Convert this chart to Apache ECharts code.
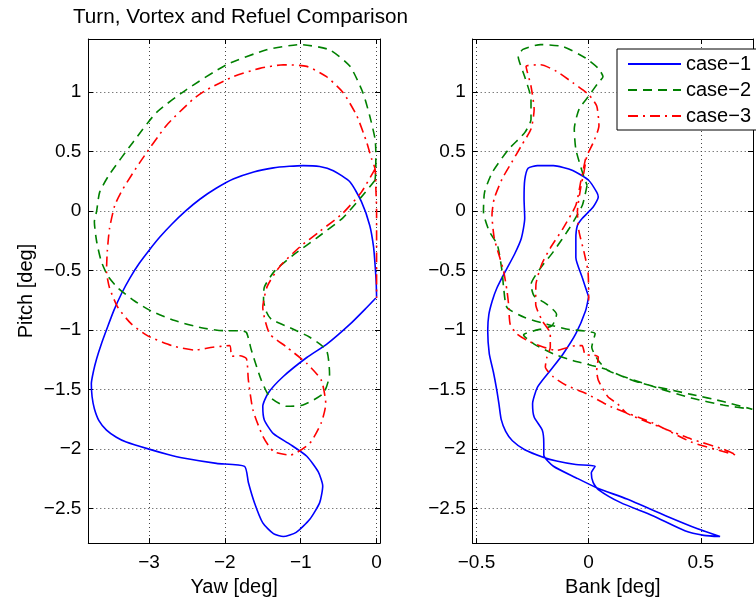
<!DOCTYPE html>
<html>
<head>
<meta charset="utf-8">
<script src="https://cdn.jsdelivr.net/npm/echarts@6/dist/echarts.min.js"></script>
<style>
html, body { margin: 0; padding: 0; background: #fff; }
#main { width: 756px; height: 602px; }
</style>
</head>
<body>
<div id="main"></div>
<script>
// [yaw, pitch] pairs, left panel
var yawPitch1 = [[0.0,-0.72],[-0.005,-0.6],[-0.02,-0.45],[-0.04,-0.3],[-0.09,-0.12],[-0.2,0.08],[-0.35,0.245],[-0.57,0.34],[-0.75,0.375],[-0.97,0.383],[-1.15,0.377],[-1.36,0.364],[-1.62,0.33],[-1.89,0.27],[-2.12,0.19],[-2.33,0.1],[-2.52,0.0],[-2.7,-0.11],[-2.86,-0.22],[-3.0,-0.33],[-3.13,-0.44],[-3.25,-0.56],[-3.36,-0.69],[-3.46,-0.83],[-3.55,-0.98],[-3.63,-1.12],[-3.69,-1.24],[-3.73,-1.34],[-3.76,-1.45],[-3.75,-1.56],[-3.72,-1.66],[-3.66,-1.76],[-3.56,-1.84],[-3.43,-1.9],[-3.3,-1.94],[-3.0,-2.0],[-2.75,-2.045],[-2.55,-2.075],[-2.11,-2.12],[-1.74,-2.145],[-1.69,-2.28],[-1.61,-2.45],[-1.5,-2.62],[-1.36,-2.71],[-1.23,-2.735],[-1.06,-2.7],[-0.88,-2.59],[-0.75,-2.45],[-0.71,-2.31],[-0.77,-2.19],[-0.92,-2.06],[-1.14,-1.96],[-1.36,-1.87],[-1.48,-1.755],[-1.5,-1.64],[-1.43,-1.53],[-1.23,-1.39],[-0.92,-1.23],[-0.66,-1.12],[-0.35,-0.95],[-0.13,-0.81],[-0.01,-0.73]];
var yawPitch2 = [[-0.02,0.26],[-0.2,0.12],[-0.45,-0.06],[-0.8,-0.23],[-1.1,-0.37],[-1.34,-0.5],[-1.48,-0.64],[-1.49,-0.75],[-1.45,-0.85],[-1.385,-0.91],[-1.14,-0.98],[-0.88,-1.06],[-0.66,-1.17],[-0.62,-1.37],[-0.7,-1.53],[-0.97,-1.63],[-1.19,-1.64],[-1.41,-1.56],[-1.52,-1.42],[-1.65,-1.17],[-1.715,-1.02],[-1.8,-1.005],[-2.0,-1.005],[-2.31,-0.98],[-2.66,-0.92],[-2.97,-0.84],[-3.19,-0.755],[-3.41,-0.645],[-3.54,-0.547],[-3.63,-0.42],[-3.69,-0.255],[-3.72,-0.09],[-3.69,0.0],[-3.65,0.16],[-3.52,0.31],[-3.21,0.58],[-2.9,0.83],[-2.51,1.02],[-1.98,1.23],[-1.45,1.356],[-1.01,1.4],[-0.62,1.356],[-0.35,1.217],[-0.18,0.995],[-0.09,0.8],[-0.02,0.606],[-0.01,0.495],[-0.01,0.35],[-0.02,0.26]];
var yawPitch3 = [[-0.02,0.356],[-0.2,0.16],[-0.45,-0.02],[-0.75,-0.17],[-1.01,-0.3],[-1.27,-0.46],[-1.44,-0.63],[-1.5,-0.81],[-1.41,-1.03],[-1.19,-1.14],[-0.92,-1.28],[-0.73,-1.42],[-0.67,-1.62],[-0.73,-1.78],[-0.88,-1.95],[-1.14,-2.05],[-1.36,-2.02],[-1.5,-1.89],[-1.63,-1.67],[-1.69,-1.42],[-1.715,-1.24],[-1.8,-1.215],[-1.91,-1.22],[-1.935,-1.13],[-2.16,-1.144],[-2.4,-1.167],[-2.7,-1.13],[-3.01,-1.05],[-3.23,-0.95],[-3.41,-0.81],[-3.52,-0.645],[-3.56,-0.505],[-3.55,-0.34],[-3.52,-0.145],[-3.45,0.05],[-3.35,0.18],[-3.12,0.41],[-2.77,0.72],[-2.42,0.94],[-2.24,1.02],[-1.89,1.13],[-1.54,1.2],[-1.23,1.23],[-0.92,1.217],[-0.66,1.13],[-0.44,0.995],[-0.26,0.8],[-0.13,0.578],[-0.066,0.44],[-0.02,0.356],[-0.01,0.2],[0.0,0.0],[0.0,-0.4],[0.0,-0.73]];

// [bank, pitch] pairs, right panel
var bankPitch1 = [[0.0,-0.72],[-0.028,-0.56],[-0.057,-0.39],[-0.057,-0.23],[-0.05,-0.12],[-0.028,-0.06],[0.021,0.037],[0.043,0.12],[0.036,0.16],[0.0,0.26],[-0.071,0.342],[-0.157,0.383],[-0.228,0.383],[-0.27,0.36],[-0.285,0.26],[-0.288,0.106],[-0.285,-0.06],[-0.3,-0.2275],[-0.33,-0.36],[-0.371,-0.505],[-0.41,-0.65],[-0.43,-0.755],[-0.445,-0.87],[-0.45,-1.005],[-0.443,-1.2],[-0.425,-1.35],[-0.41,-1.5],[-0.4,-1.62],[-0.39,-1.75],[-0.37,-1.85],[-0.34,-1.93],[-0.285,-2.005],[-0.2,-2.07],[-0.143,-2.1],[-0.057,-2.13],[0.029,-2.144],[0.012,-2.2],[0.02,-2.28],[0.043,-2.34],[0.143,-2.45],[0.286,-2.56],[0.429,-2.686],[0.514,-2.725],[0.586,-2.735],[0.486,-2.67],[0.343,-2.56],[0.171,-2.42],[0.036,-2.325],[-0.057,-2.24],[-0.157,-2.144],[-0.2,-2.05],[-0.2,-1.95],[-0.207,-1.84],[-0.243,-1.73],[-0.25,-1.62],[-0.228,-1.48],[-0.171,-1.34],[-0.114,-1.2],[-0.057,-1.03],[-0.014,-0.84],[0.0,-0.72]];
var bankPitch2 = [[-0.007,0.217],[-0.028,0.05],[-0.086,-0.144],[-0.157,-0.34],[-0.214,-0.477],[-0.257,-0.617],[-0.243,-0.713],[-0.186,-0.783],[-0.143,-0.867],[-0.164,-0.963],[-0.243,-1.005],[-0.29,-1.04],[-0.243,-1.117],[-0.157,-1.2],[-0.071,-1.255],[0.014,-1.297],[0.071,-1.325],[0.157,-1.394],[0.243,-1.45],[0.457,-1.54],[0.6,-1.6],[0.73,-1.665],[0.6,-1.63],[0.457,-1.57],[0.314,-1.49],[0.171,-1.4],[0.086,-1.34],[0.043,-1.255],[0.014,-1.144],[0.029,-1.03],[-0.1,-0.99],[-0.186,-0.95],[-0.285,-0.894],[-0.364,-0.81],[-0.379,-0.644],[-0.386,-0.505],[-0.407,-0.283],[-0.443,-0.17],[-0.469,-0.005],[-0.464,0.16],[-0.429,0.328],[-0.357,0.52],[-0.285,0.66],[-0.257,0.77],[-0.257,0.94],[-0.285,1.13],[-0.314,1.3],[-0.293,1.36],[-0.214,1.4],[-0.114,1.383],[-0.014,1.287],[0.043,1.2],[0.064,1.13],[0.043,1.08],[0.0,0.967],[-0.043,0.856],[-0.064,0.69],[-0.057,0.52],[-0.028,0.328],[-0.007,0.217]];
var bankPitch3 = [[-0.014,0.44],[-0.035,0.25],[-0.057,0.05],[-0.114,-0.144],[-0.171,-0.31],[-0.21,-0.45],[-0.235,-0.617],[-0.236,-0.783],[-0.207,-0.92],[-0.171,-1.03],[-0.171,-1.144],[-0.186,-1.227],[-0.193,-1.31],[-0.157,-1.394],[-0.1,-1.463],[-0.014,-1.53],[0.1,-1.644],[0.286,-1.78],[0.457,-1.94],[0.6,-2.02],[0.66,-2.05],[0.6,-2.0],[0.457,-1.915],[0.314,-1.81],[0.171,-1.7],[0.129,-1.62],[0.086,-1.56],[0.043,-1.42],[0.036,-1.34],[0.043,-1.227],[0.021,-1.21],[-0.014,-1.21],[-0.029,-1.13],[-0.057,-1.13],[-0.143,-1.17],[-0.2,-1.144],[-0.271,-1.09],[-0.321,-1.03],[-0.35,-0.95],[-0.357,-0.783],[-0.364,-0.67],[-0.379,-0.505],[-0.4,-0.367],[-0.421,-0.2275],[-0.431,-0.033],[-0.421,0.106],[-0.386,0.27],[-0.343,0.41],[-0.3,0.55],[-0.257,0.69],[-0.243,0.856],[-0.257,1.05],[-0.279,1.217],[-0.214,1.23],[-0.143,1.175],[-0.071,1.08],[0.0,0.98],[0.036,0.883],[0.046,0.717],[0.021,0.578],[-0.007,0.467],[-0.021,0.328],[-0.036,0.19],[-0.05,-0.005],[-0.043,-0.17],[-0.021,-0.34],[-0.003,-0.505],[0.0,-0.67],[0.0,-0.75]];

var caseNames = ['case\u22121', 'case\u22122', 'case\u22123'];
var yawRange = [-3.8, 0.045];
var bankRange = [-0.517, 0.733];
var pitchRange = [-2.79, 1.447];

var font = 'Liberation Sans, Arial, Helvetica, sans-serif';
var myChart = echarts.init(document.getElementById('main'));

function tickFmt(step) {
    return function (v) {
        var r = Math.round(v / step) * step;
        if (Math.abs(v - r) > 1e-6) return '';
        var s = String(+r.toFixed(2));
        if (s === '-0') s = '0';
        return s.replace('-', '\u2212');
    };
}

function mainAxis(grid, pos, range, step, name, gap, margin) {
    return {
        type: 'value', gridIndex: grid, position: pos,
        min: range[0], max: range[1],
        minInterval: step, maxInterval: step, splitNumber: 8,
        name: name, nameLocation: 'middle', nameGap: gap,
        nameTextStyle: {color: '#000', fontSize: 20, fontFamily: font},
        axisLine: {show: true, onZero: false, lineStyle: {color: '#000', width: 1}},
        axisTick: {show: true, inside: true, length: 5, lineStyle: {color: '#000'}},
        axisLabel: {color: '#000', fontSize: 19, fontFamily: font, margin: margin, formatter: tickFmt(step)},
        splitLine: {show: true, lineStyle: {color: '#444', width: 1, type: [1, 3]}}
    };
}

function mirrorAxis(grid, pos, range, step) {
    return {
        type: 'value', gridIndex: grid, position: pos,
        min: range[0], max: range[1],
        minInterval: step, maxInterval: step, splitNumber: 8,
        axisLine: {show: true, onZero: false, lineStyle: {color: '#000', width: 1}},
        axisTick: {show: true, inside: true, length: 5, lineStyle: {color: '#000'}},
        axisLabel: {show: false},
        splitLine: {show: false}
    };
}

var lineStyles = [
    {color: '#0000ff', width: 1.6, type: 'solid'},
    {color: '#008000', width: 1.6, type: [9, 6]},
    {color: '#ff0000', width: 1.6, type: [10, 5, 2, 5]}
];

function mkSeries(name, idx, data, style) {
    return {
        name: name, type: 'line', xAxisIndex: idx, yAxisIndex: idx,
        data: data, symbol: 'none', showSymbol: false,
        smooth: 0.2, lineStyle: style, itemStyle: {color: style.color},
        clip: true, animation: false
    };
}

var option = {
    animation: false,
    backgroundColor: '#fff',
    title: {
        text: 'Turn, Vortex and Refuel Comparison',
        left: 68, top: 2,
        textStyle: {color: '#000', fontSize: 20.7, fontWeight: 'normal', fontFamily: font}
    },
    legend: {
        data: caseNames,
        orient: 'vertical',
        left: 617, top: 49,
        itemWidth: 53, itemHeight: 14, itemGap: 6,
        padding: [5, 10, 4, 10],
        backgroundColor: '#fff',
        borderColor: '#000', borderWidth: 1, borderRadius: 0,
        itemStyle: {opacity: 0},
        textStyle: {color: '#000', fontSize: 20, fontFamily: font, lineHeight: 20},
        selectedMode: false
    },
    grid: [
        {left: 88.3, top: 39, width: 291.7, height: 508.3},
        {left: 472.7, top: 39, width: 291.7, height: 508.3}
    ],
    xAxis: [
        mainAxis(0, 'bottom', yawRange, 1, 'Yaw [deg]', 29, 10),
        mainAxis(1, 'bottom', bankRange, 0.5, 'Bank [deg]', 29, 10),
        mirrorAxis(0, 'top', yawRange, 1),
        mirrorAxis(1, 'top', bankRange, 0.5)
    ],
    yAxis: [
        mainAxis(0, 'left', pitchRange, 0.5, 'Pitch [deg]', 52, 7),
        mainAxis(1, 'left', pitchRange, 0.5, '', 52, 7),
        mirrorAxis(0, 'right', pitchRange, 0.5),
        mirrorAxis(1, 'right', pitchRange, 0.5)
    ],
    series: [
        mkSeries(caseNames[0], 0, yawPitch1, lineStyles[0]),
        mkSeries(caseNames[1], 0, yawPitch2, lineStyles[1]),
        mkSeries(caseNames[2], 0, yawPitch3, lineStyles[2]),
        mkSeries(caseNames[0], 1, bankPitch1, lineStyles[0]),
        mkSeries(caseNames[1], 1, bankPitch2, lineStyles[1]),
        mkSeries(caseNames[2], 1, bankPitch3, lineStyles[2])
    ]
};
myChart.setOption(option);
window.onresize = function () {
    myChart.resize();
};
</script>
</body>
</html>
